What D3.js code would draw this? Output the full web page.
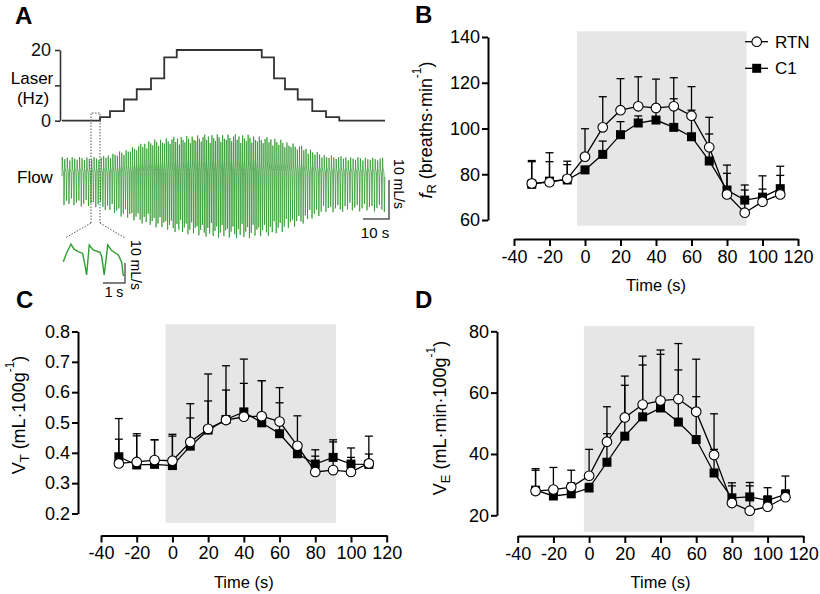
<!DOCTYPE html>
<html><head><meta charset="utf-8">
<script src="https://cdn.jsdelivr.net/npm/d3@7"></script>
<style>body{margin:0;background:#fff}svg{display:block}text{font-family:Arial,"Liberation Sans",sans-serif}</style>
</head><body><svg id="c" width="820" height="594"></svg>
<script>
// ---------- DATA ----------
const time = [-30,-20,-10,0,10,20,30,40,50,60,70,80,90,100,110];
const xTicks = [-40,-20,0,20,40,60,80,100,120];
// Panel B: fR (breaths/min)
const fR_RTN = [76,76.5,78,87.7,100.5,108,109.7,109,109.7,105.6,91.8,71.2,63.2,68,71.2];
const fR_RTN_sem = [10,12.9,7.7,12.2,13.4,13.8,12.9,12.6,12.5,12.7,13.1,12.8,12.1,11.3,12.3];
const fR_C1 = [75.6,77,77.5,81.9,88.7,97.3,102.4,103.7,100.5,96.4,85.8,73.1,68.7,70,73.7];
const fR_C1_sem = [9.9,8.5,6.7,1.5,5.8,5.7,3.1,6.6,12.5,11.6,11.8,7.3,4.4,3.5,5.8];
const fR_ticks = [60,80,100,120,140];
// Panel C: VT (mL/100g)
const VT_RTN = [0.365,0.370,0.376,0.374,0.436,0.479,0.508,0.519,0.521,0.503,0.423,0.337,0.343,0.337,0.365];
const VT_RTN_sem = [0.080,0.093,0.067,0.087,0.126,0.181,0.179,0.190,0.117,0.112,0.099,0.052,0.093,0.048,0.090];
const VT_C1 = [0.387,0.360,0.362,0.358,0.422,0.475,0.510,0.535,0.499,0.463,0.397,0.363,0.385,0.363,0.362];
const VT_C1_sem = [0.126,0.096,0.081,0.097,0.093,0.096,0.097,0.094,0.139,0.102,0.023,0.047,0.058,0.053,0.034];
const VT_ticks = [0.2,0.3,0.4,0.5,0.6,0.7,0.8];
// Panel D: VE (mL/min/100g)
const VE_RTN = [27.9,28.4,29.2,32.9,44.0,51.9,56.1,57.4,57.9,53.8,39.7,24.0,21.5,22.8,25.9];
const VE_RTN_sem = [7.3,7.2,5.5,8.6,11.4,13.5,15.8,16.5,18.1,17.1,13.4,5.6,8.1,3.5,6.9];
const VE_C1 = [28.2,26.3,27.0,28.9,37.3,45.8,52.1,55.0,50.4,44.7,33.8,25.7,26.0,24.9,26.8];
const VE_C1_sem = [6.5,1.5,3.6,1.5,9.3,16.6,16.9,17.5,17.0,14.0,7.7,4.9,4.7,4.1,1.5];
const VE_ticks = [20,40,60,80];
// Panel A: laser staircase (s, Hz)
const laserTimes = [0,15.2,19.2,24.8,29.9,35.6,40.9,45.9,79.9,84.8,89.2,94.3,100.1,105.6,110.9,129.2];
const laserLevels = [0,1,2.7,6,8.9,12,17.9,20,17.9,12,8.9,6,2.7,1,0,0];
// Panel A: flow trace envelope (mL/s) and breath period (s)
const envTimes = [0,15.2,25.2,35.2,45.2,55.2,65.2,75.2,85.2,95.2,105.2,115.2,129.2];
const envTop = [3.9,3.9,5.6,8.0,8.8,9.3,9.5,9.3,8.5,6.8,4.4,3.9,3.7];
const envBottom = [-7.8,-8.5,-11.0,-12.9,-14.4,-15.4,-15.9,-15.9,-15.1,-12.7,-9.8,-9.3,-9.5];
const breathTimes = [0,15,30,45,60,75,90,105,129.2];
const breathPeriod = [1.0,0.95,0.82,0.74,0.71,0.74,0.82,0.95,1.0];
const ampCycle = [1,0.86,0.95,0.78,0.98,0.9,0.83,1,0.92,0.8,0.97,0.88,0.85,0.99,0.9,0.82,0.94];
const tplPhase = [0,0.1,0.22,0.45,0.62,0.7,0.8,1];
const tplVal = [-0.1,1,0.35,0.15,0.05,-0.35,-1,-0.1];
// Inset breaths (s, mL/s)
const insetT = [0,0.15,0.35,0.49,0.68,0.88,1.0,1.06,1.18,1.36,1.67,1.75,1.86,2.02,2.2,2.5,2.65,2.73];
const insetF = [-4.9,-0.5,3.9,1.4,0.2,-0.7,-7.4,-11.5,3.5,1.0,-0.2,-2.4,-11.5,3.5,0.7,-1.5,-5,-12];

// ---------- DRAW ----------
const svg = d3.select("#c");
const FONT = 'Arial,"Liberation Sans",sans-serif';

function letter(t,x,y){svg.append("text").attr("x",x).attr("y",y).attr("font-size",24).attr("font-weight","bold").text(t);}
letter("A",15,24); letter("B",415,23); letter("C",16,308); letter("D",415,308);

// ---- Panel A ----
const trX = d3.scaleLinear().domain([0,129.2]).range([62,385]);
const laserY = d3.scaleLinear().domain([0,20]).range([120.7,50]);
const la = svg.append("g").attr("transform","translate(60,0)")
  .call(d3.axisLeft(laserY).tickValues([0,10,20]).tickSize(5).tickSizeOuter(0).tickPadding(4).tickFormat(d=>d===10?"":String(d)));
la.attr("font-family",FONT).attr("font-size",18);
la.selectAll("path,line").attr("stroke","#333").attr("stroke-width",1.6);
la.selectAll("text").attr("fill","#111");
svg.append("path").datum(laserTimes.map((t,i)=>[t,laserLevels[i]]))
  .attr("d",d3.line().x(d=>trX(d[0])).y(d=>laserY(d[1])).curve(d3.curveStepAfter))
  .attr("fill","none").attr("stroke","#333").attr("stroke-width",1.8);
svg.append("text").attr("x",32).attr("y",84).attr("text-anchor","middle").attr("font-size",17).text("Laser");
svg.append("text").attr("x",33).attr("y",104).attr("text-anchor","middle").attr("font-size",17).text("(Hz)");
svg.append("text").attr("x",17).attr("y",183).attr("font-size",17).text("Flow");

// flow trace
const flowY = d3.scaleLinear().domain([0,10]).range([173,132]);
const topS = d3.scaleLinear().domain(envTimes).range(envTop);
const botS = d3.scaleLinear().domain(envTimes).range(envBottom);
const perS = d3.scaleLinear().domain(breathTimes).range(breathPeriod);
const pts = [];
let t0 = 0, k = 0;
while (t0 < 129.2) {
  const p = perS(t0), a = ampCycle[k % ampCycle.length];
  for (let j = 0; j < tplPhase.length; j++) {
    if (j === 0 && k > 0) continue;
    const tt = t0 + tplPhase[j]*p;
    if (tt > 129.2) break;
    const v = tplVal[j] >= 0 ? tplVal[j]*topS(tt)*a : -tplVal[j]*botS(tt)*a;
    pts.push([tt,v]);
  }
  t0 += p; k++;
}
svg.append("path").datum(pts)
  .attr("d",d3.line().x(d=>trX(d[0])).y(d=>flowY(d[1])))
  .attr("fill","none").attr("stroke","#239223").attr("stroke-width",0.9).attr("stroke-opacity",0.8);

// scale bars main
svg.append("path").attr("d","M363,219H389V180").attr("fill","none").attr("stroke","#555").attr("stroke-width",1.5);
svg.append("text").attr("x",375).attr("y",238).attr("text-anchor","middle").attr("font-size",15).text("10 s");
svg.append("text").attr("transform","translate(394,184) rotate(90)").attr("text-anchor","middle").attr("font-size",14).text("10 mL/s");

// zoom box
const dot = {stroke:"#555","stroke-width":1,"stroke-dasharray":"1.5,1.5",fill:"none"};
const zb = svg.append("path").attr("d","M91,223V113H100V223M91,223L65,238M100,223L125,238");
Object.entries(dot).forEach(([k2,v])=>zb.attr(k2,v));

// inset
const inX = d3.scaleLinear().domain([0,1]).range([63.3,85.3]);
const inY = d3.scaleLinear().domain([0,10]).range([252,232]);
svg.append("path").datum(insetT.map((t,i)=>[t,insetF[i]]))
  .attr("d",d3.line().x(d=>inX(d[0])).y(d=>inY(d[1])))
  .attr("fill","none").attr("stroke","#2f9e2f").attr("stroke-width",1.4);
svg.append("path").attr("d","M103,283H125V263").attr("fill","none").attr("stroke","#555").attr("stroke-width",1.4);
svg.append("text").attr("x",114).attr("y",297).attr("text-anchor","middle").attr("font-size",14).text("1 s");
svg.append("text").attr("transform","translate(131,265) rotate(90)").attr("text-anchor","middle").attr("font-size",14).text("10 mL/s");

// ---- Panels B, C, D ----
function panel(o){
  const x = d3.scaleLinear().domain([-40,120]).range(o.xr);
  const y = d3.scaleLinear().domain(o.yd).range(o.yr);
  const g = svg.append("g");
  g.append("rect").attr("x",x(o.shadeX[0])).attr("width",x(o.shadeX[1])-x(o.shadeX[0]))
    .attr("y",y(o.shadeY[1])).attr("height",y(o.shadeY[0])-y(o.shadeY[1])).attr("fill","#e6e6e6");
  const ya = g.append("g").attr("transform",`translate(${o.yAxisX},0)`)
    .call(d3.axisLeft(y).tickValues(o.yTicks).tickSize(6).tickSizeOuter(0).tickPadding(2).tickFormat(o.yFmt));
  const xa = g.append("g").attr("transform",`translate(0,${o.xAxisY})`)
    .call(d3.axisBottom(x).tickValues(xTicks).tickSize(7).tickSizeOuter(0).tickPadding(4).tickFormat(d=>String(d)));
  [ya,xa].forEach(a=>{a.attr("font-family",FONT).attr("font-size",18);
    a.selectAll("path,line").attr("stroke","#000").attr("stroke-width",2);
    a.selectAll("text").attr("fill","#000");});
  g.append("text").attr("x",(x(-40)+x(120))/2).attr("y",o.xAxisY+52).attr("text-anchor","middle").attr("font-size",16.5).attr("font-weight","normal").text("Time (s)");
  const tt = g.append("text").attr("transform",`translate(${o.titleX},${o.titleY}) rotate(-90)`).attr("text-anchor","middle").attr("font-size",18);
  o.title(tt);
  const series = [
    {v:o.c1, e:o.c1e, type:"sq"},
    {v:o.rtn, e:o.rtne, type:"ci"}
  ];
  series.forEach(s=>{
    const eg = g.append("g").attr("stroke","#000").attr("stroke-width",1.3);
    time.forEach((t,i)=>{
      const yt = y(s.v[i]+s.e[i]);
      eg.append("line").attr("x1",x(t)).attr("x2",x(t)).attr("y1",y(s.v[i])).attr("y2",yt);
      eg.append("line").attr("x1",x(t)-4).attr("x2",x(t)+4).attr("y1",yt).attr("y2",yt);
    });
  });
  series.forEach(s=>{
    g.append("path").datum(time.map((t,i)=>[t,s.v[i]]))
      .attr("d",d3.line().x(d=>x(d[0])).y(d=>y(d[1])))
      .attr("fill","none").attr("stroke","#000").attr("stroke-width",1.3);
    time.forEach((t,i)=>{
      if (s.type==="sq") g.append("rect").attr("x",x(t)-4.5).attr("y",y(s.v[i])-4.5).attr("width",9).attr("height",9).attr("fill","#000");
      else g.append("circle").attr("cx",x(t)).attr("cy",y(s.v[i])).attr("r",4.8).attr("fill","#fff").attr("stroke","#000").attr("stroke-width",1.1);
    });
  });
  return g;
}
function sub(t,txt){t.append("tspan").attr("font-size",13).attr("dy",4).text(txt);}
function sup(t,txt){t.append("tspan").attr("font-size",12).attr("dy",-11).text(txt);}

const gB = panel({xr:[514,798], yd:[60,140], yr:[220,37], yTicks:fR_ticks, yFmt:d=>String(d),
  shadeX:[-4.5,91], shadeY:[57.5,142.5], yAxisX:488, xAxisY:239, titleX:432, titleY:130,
  rtn:fR_RTN, rtne:fR_RTN_sem, c1:fR_C1, c1e:fR_C1_sem,
  title:t=>{t.append("tspan").attr("font-style","italic").text("f");sub(t,"R");
    t.append("tspan").attr("dy",-4).text(" (breaths·min");sup(t,"-1");t.append("tspan").attr("dy",11).text(")");}});
// legend
gB.append("line").attr("x1",745).attr("x2",768).attr("y1",41.7).attr("y2",41.7).attr("stroke","#000").attr("stroke-width",1.3);
gB.append("circle").attr("cx",756.7).attr("cy",41.7).attr("r",4.8).attr("fill","#fff").attr("stroke","#000").attr("stroke-width",1.1);
gB.append("text").attr("x",775).attr("y",47.5).attr("font-size",17).text("RTN");
gB.append("line").attr("x1",745).attr("x2",768).attr("y1",68.3).attr("y2",68.3).attr("stroke","#000").attr("stroke-width",1.3);
gB.append("rect").attr("x",752.2).attr("y",63.8).attr("width",9).attr("height",9).attr("fill","#000");
gB.append("text").attr("x",775).attr("y",74).attr("font-size",17).text("C1");

panel({xr:[101,386.7], yd:[0.2,0.8], yr:[513.5,331.5], yTicks:VT_ticks, yFmt:d3.format(".1f"),
  shadeX:[-3.8,91.6], shadeY:[0.169,0.824], yAxisX:78, xAxisY:535.5, titleX:25, titleY:415,
  rtn:VT_RTN, rtne:VT_RTN_sem, c1:VT_C1, c1e:VT_C1_sem,
  title:t=>{t.append("tspan").text("V");sub(t,"T");
    t.append("tspan").attr("dy",-4).text(" (mL·100g");sup(t,"-1");t.append("tspan").attr("dy",11).text(")");}});

panel({xr:[517.7,803.3], yd:[20,80], yr:[515.3,331.3], yTicks:VE_ticks, yFmt:d=>String(d),
  shadeX:[-2.9,92.5], shadeY:[14.6,81.7], yAxisX:497, xAxisY:536, titleX:446, titleY:418,
  rtn:VE_RTN, rtne:VE_RTN_sem, c1:VE_C1, c1e:VE_C1_sem,
  title:t=>{t.append("tspan").text("V");sub(t,"E");
    t.append("tspan").attr("dy",-4).text(" (mL·min·100g");sup(t,"-1");t.append("tspan").attr("dy",11).text(")");}});
</script></body></html>
